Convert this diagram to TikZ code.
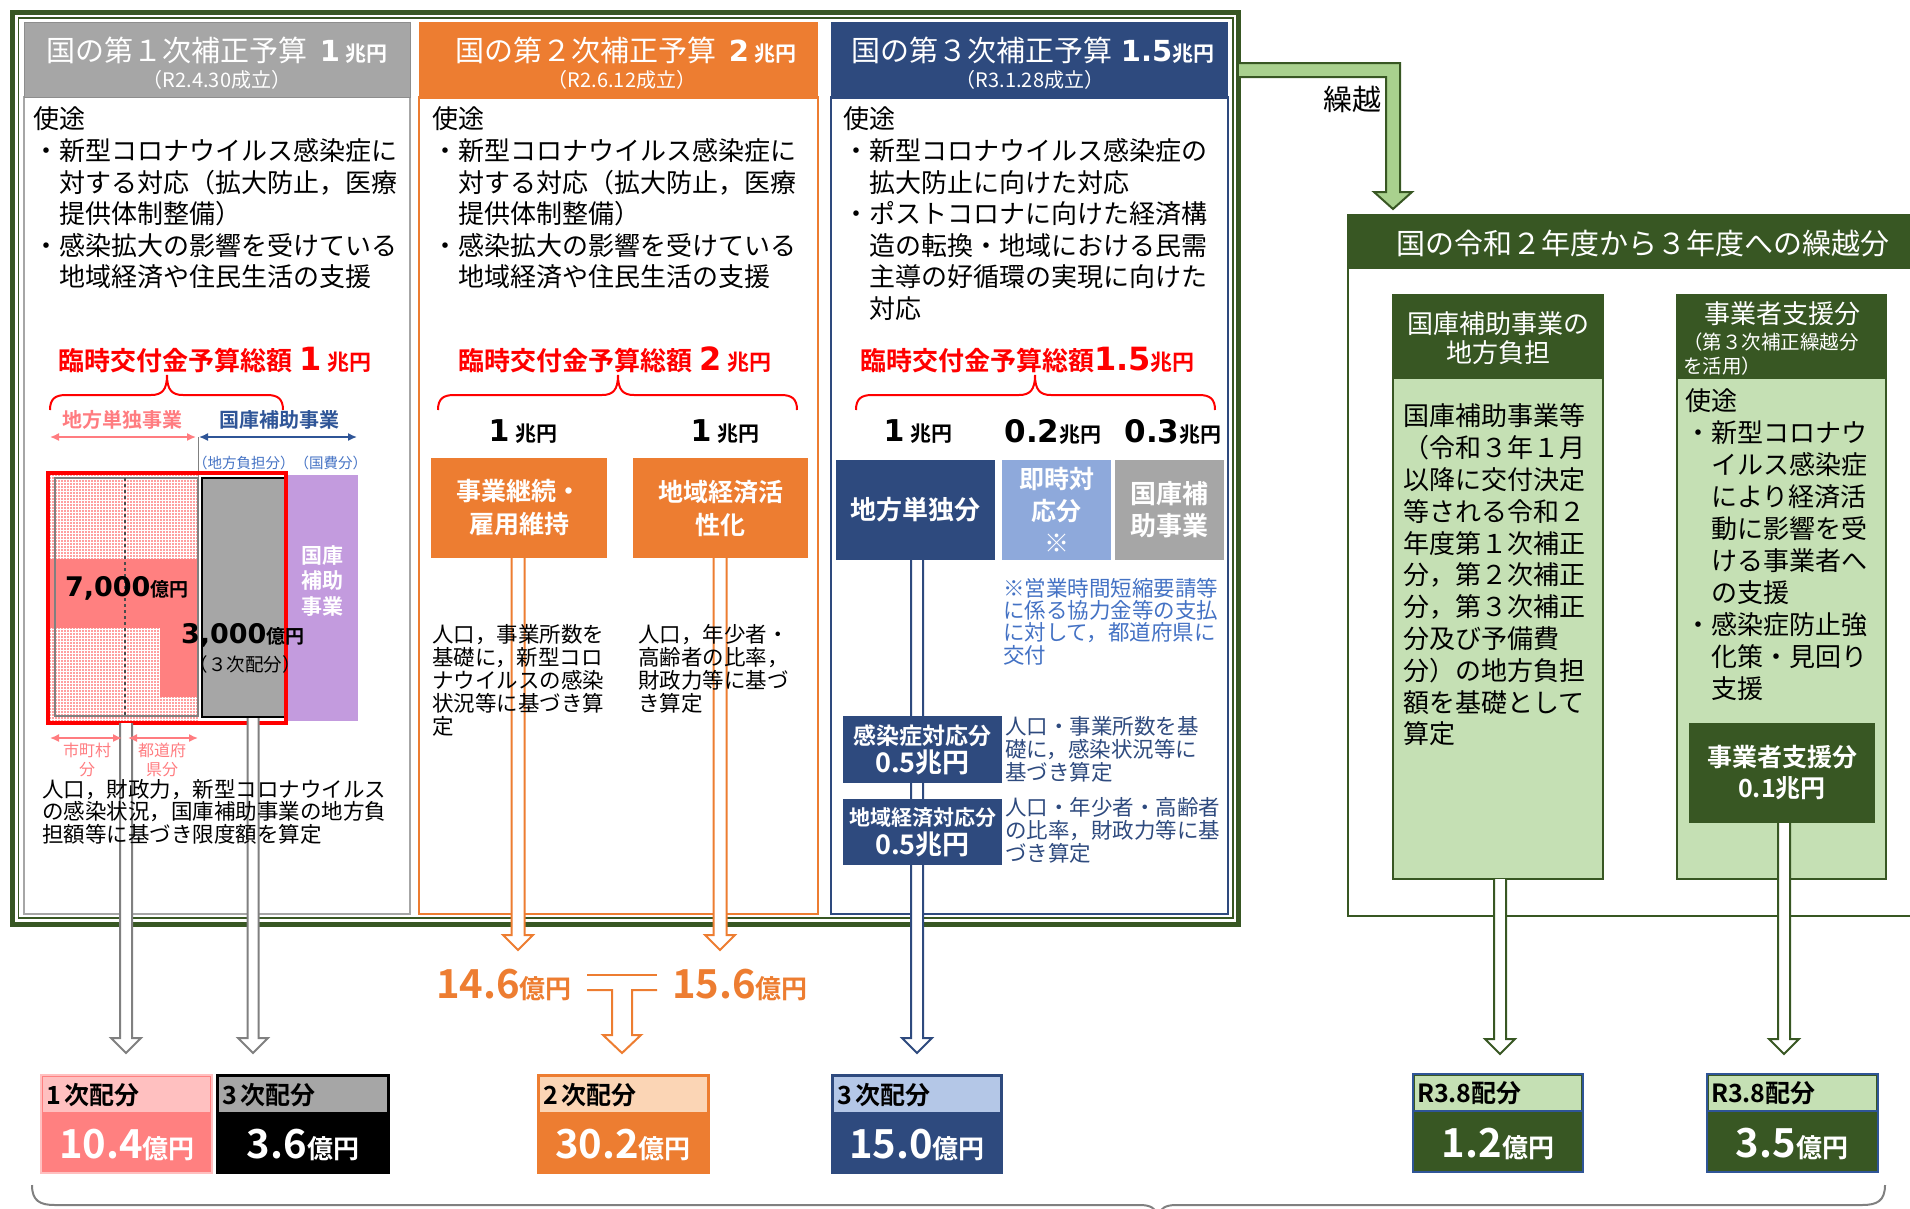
\documentclass[tikz,border=0pt]{standalone}
\usepackage{fontspec}
\setmainfont{Noto Sans CJK JP}[BoldFont={* Bold}]
\newfontfamily\vfont{DejaVu Sans}
\usetikzlibrary{calc,patterns,arrows.meta}
\newcommand\fs[2]{\fontsize{#1}{#2}\selectfont}
\newcommand\hollowdown[4]{\draw[#1, line width=2pt, fill=white, line join=miter] let \p1=#3, \p2=#4 in (\x1-#2,\y1) -- (\x1-#2,\y2+15pt) -- (\x1-15pt,\y2+15pt) -- (\x1,\y2) -- (\x1+15pt,\y2+15pt) -- (\x1+#2,\y2+15pt) -- (\x1+#2,\y1);}
\newcommand\redbrace[3]{\draw[red, line width=2pt] (#1,410) .. controls (#1,399) and (#1+5,395) .. (#1+16,395) -- (#2-16,395) .. controls (#2-5,395) and (#2,390) .. (#2,375) .. controls (#2,390) and (#2+5,395) .. (#2+16,395) -- (#3-16,395) .. controls (#3-5,395) and (#3,399) .. (#3,410);}
\definecolor{dgreen}{HTML}{385723}
\definecolor{lgreen}{HTML}{C5E0B4}
\definecolor{mgreen}{HTML}{A9D18E}
\definecolor{orng}{HTML}{ED7D31}
\definecolor{navy}{HTML}{2E4A7E}
\definecolor{hgray}{HTML}{A6A6A6}
\definecolor{lblue}{HTML}{8EA9DB}
\definecolor{tblue}{HTML}{4472C4}
\definecolor{kblue}{HTML}{2F5597}
\definecolor{pinkt}{HTML}{FF7C80}
\definecolor{pinkb}{HTML}{FF8080}
\definecolor{pinkl}{HTML}{FFC0C0}
\definecolor{purp}{HTML}{C39BDE}
\definecolor{peach}{HTML}{FBD5B5}
\definecolor{lnavy}{HTML}{B4C7E7}
\begin{document}
\begin{tikzpicture}[x=1pt,y=-1pt, every node/.style={inner sep=0pt,outer sep=0pt},
  bx/.style={rectangle, anchor=north west},
  tl/.style={anchor=north west, align=left},
  dim/.style={line width=1.5pt, {Latex[length=9pt,width=8pt]}-{Latex[length=9pt,width=8pt]}}]
\useasboundingbox (0,0) rectangle (1910,1208);
% ---------- outer frame ----------
\node[bx, draw=dgreen, line width=5pt, minimum width=1226, minimum height=912] (frame) at (12.5,12.5) {};
\draw[dgreen, line width=1.2pt] (18.5,18) rectangle (1233,918);
% ---------- columns ----------
\node[bx, draw=hgray, line width=2pt, minimum width=386, minimum height=817] (c1) at (24,97) {};
\node[bx, fill=hgray, draw=hgray!85!black, line width=1pt, minimum width=386, minimum height=75] (h1) at (24,22) {};
\node[bx, draw=orng, line width=2pt, minimum width=399, minimum height=817] (c2) at (419,97) {};
\node[bx, fill=orng, minimum width=399, minimum height=77] (h2) at (419,22) {};
\node[bx, draw=navy, line width=2pt, minimum width=397, minimum height=817] (c3) at (831,97) {};
\node[bx, fill=navy, minimum width=397, minimum height=77] (h3) at (831,22) {};
\node[text=white] (h1t) at (217,50) {\fs{29}{34}国の第１次補正予算\hspace{12pt}{\vfont\bfseries 1}\hspace{5pt}{\bfseries\fs{21}{25}兆円}};
\node[text=white] (h1s) at (217,80) {\fs{20}{24}（R2.4.30成立）};
\node[text=white] (h2t) at (626,50) {\fs{29}{34}国の第２次補正予算\hspace{12pt}{\vfont\bfseries 2}\hspace{5pt}{\bfseries\fs{21}{25}兆円}};
\node[text=white] (h2s) at (622,80) {\fs{20}{24}（R2.6.12成立）};
\node[text=white] (h3t) at (1033,50) {\fs{29}{34}国の第３次補正予算\hspace{8pt}{\vfont\bfseries 1.5}{\bfseries\fs{21}{25}兆円}};
\node[text=white] (h3s) at (1030,80) {\fs{20}{24}（R3.1.28成立）};
% ---------- usage texts ----------
\node[tl, font=\fs{26}{31.6}] (u1) at (33,107) {使途\\・新型コロナウイルス感染症に\\\hspace*{1em}対する対応（拡大防止，医療\\\hspace*{1em}提供体制整備）\\・感染拡大の影響を受けている\\\hspace*{1em}地域経済や住民生活の支援};
\node[tl, font=\fs{26}{31.6}] (u2) at (432,107) {使途\\・新型コロナウイルス感染症に\\\hspace*{1em}対する対応（拡大防止，医療\\\hspace*{1em}提供体制整備）\\・感染拡大の影響を受けている\\\hspace*{1em}地域経済や住民生活の支援};
\node[tl, font=\fs{26}{31.6}] (u3) at (843,107) {使途\\・新型コロナウイルス感染症の\\\hspace*{1em}拡大防止に向けた対応\\・ポストコロナに向けた経済構\\\hspace*{1em}造の転換・地域における民需\\\hspace*{1em}主導の好循環の実現に向けた\\\hspace*{1em}対応};
% ---------- totals ----------
\node[anchor=west, text=red] (r1) at (58,360) {\bfseries\fs{26}{30}臨時交付金予算総額\hspace{7pt}{\vfont\fs{32}{36}1}\hspace{6pt}\fs{22}{26}兆円};
\node[anchor=west, text=red] (r2) at (458,360) {\bfseries\fs{26}{30}臨時交付金予算総額\hspace{7pt}{\vfont\fs{32}{36}2}\hspace{6pt}\fs{22}{26}兆円};
\node[anchor=west, text=red] (r3) at (860,360) {\bfseries\fs{26}{30}臨時交付金予算総額{\vfont\fs{32}{36}1.5}\fs{22}{26}兆円};
\redbrace{50}{167}{283}
\redbrace{438}{618}{797}
\redbrace{856}{1035}{1215}
% ---------- column 1 diagram ----------
\node[text=pinkt] (l1) at (122,420) {\bfseries\fs{20}{24}地方単独事業};
\node[text=kblue] (l2) at (279,420) {\bfseries\fs{20}{24}国庫補助事業};
\draw[pinkt, dim] (50,437) -- (196,437);
\draw[kblue, dim] (199,437) -- (357,437);
\draw[gray, line width=1pt] (198,437) -- (198,478);
\node[anchor=west, text=tblue] (l3) at (193,463) {\fs{14.5}{17}（地方負担分）（国費分）};
\fill[pinkb!75] (50,475) rectangle (198,721);
\fill[pattern=grid, pattern color=white] (50,475) rectangle (198,721);
\fill[pinkb] (48,559) rectangle (197,628);
\fill[pinkb] (160,628) rectangle (197,697);
\draw[gray, line width=1.5pt] (55,478) rectangle (198,716);
\draw[black!70, dashed, line width=1.2pt] (125,478) -- (125,718);
\node[bx, fill=hgray, draw=black, line width=2.5pt, minimum width=85, minimum height=239] (gb) at (202,478) {};
\node[bx, fill=purp, minimum width=70, minimum height=246] (pb) at (288,475) {};
\node[text=white, align=center, font=\bfseries\fs{21}{25.5}] (pbt) at (322,581) {国庫\\補助\\事業};
\node[bx, draw=red, line width=3.5pt, minimum width=238, minimum height=250] (rb) at (48,473) {};
\node[anchor=west] (v7) at (65,588) {\bfseries{\vfont\fs{27}{30}7,000}\fs{19}{22}億円};
\node[anchor=west] (v3) at (181,635) {\bfseries{\vfont\fs{27}{30}3,000}\fs{19}{22}億円};
\node (v3s) at (245,664) {\fs{18.5}{21}（３次配分）};
% ---------- column 2 ----------
\node (o1v) at (523,432) {{\vfont\bfseries\fs{30}{34}1}\hspace{6pt}{\bfseries\fs{21}{25}兆円}};
\node (o2v) at (725,432) {{\vfont\bfseries\fs{30}{34}1}\hspace{6pt}{\bfseries\fs{21}{25}兆円}};
\node[bx, fill=orng, text=white, align=center, minimum width=176, minimum height=100, font=\bfseries\fs{25}{33}] (o1) at (431,458) {事業継続・\\雇用維持};
\node[bx, fill=orng, text=white, align=center, minimum width=175, minimum height=100, font=\bfseries\fs{25}{33}] (o2) at (633,458) {地域経済活\\性化};
% ---------- column 3 ----------
\node (n1v) at (918,432) {{\vfont\bfseries\fs{30}{34}1}\hspace{6pt}{\bfseries\fs{21}{25}兆円}};
\node (n2v) at (1053,432) {{\vfont\bfseries\fs{31}{34}0.2}{\bfseries\fs{21}{25}兆円}};
\node (n3v) at (1173,432) {{\vfont\bfseries\fs{31}{34}0.3}{\bfseries\fs{21}{25}兆円}};
\node[bx, fill=navy, text=white, minimum width=159, minimum height=100, font=\bfseries\fs{26}{30}] (n1) at (836,460) {地方単独分};
\node[bx, fill=lblue, text=white, align=center, minimum width=109, minimum height=100, font=\bfseries\fs{25}{32}] (n2) at (1002,460) {即時対\\応分\\※};
\node[bx, fill=hgray, text=white, align=center, minimum width=109, minimum height=100, font=\bfseries\fs{26}{32}] (n3) at (1115,460) {国庫補\\助事業};
\node[tl, text=tblue, font=\fs{21.5}{22.4}] (nnote) at (1003,578) {※営業時間短縮要請等\\に係る協力金等の支払\\に対して，都道府県に\\交付};
% ---------- right section ----------
\node[bx, draw=dgreen, line width=2pt, minimum width=600, minimum height=701] (cf) at (1348,215) {};
\node[bx, fill=dgreen, minimum width=600, minimum height=54] (ch) at (1348,215) {};
\node[text=white] (cht) at (1643,243) {\fs{29}{33}国の令和２年度から３年度への繰越分};
\node[bx, fill=lgreen, draw=dgreen, line width=2pt, minimum width=210, minimum height=584] (ga) at (1393,295) {};
\node[bx, fill=dgreen, minimum width=210, minimum height=84] (gah) at (1393,295) {};
\node[text=white, align=center, font=\fs{26}{29}] (gaht) at (1498,338) {国庫補助事業の\\地方負担};
\node[tl, font=\fs{26}{31.8}] (gat) at (1403,404) {国庫補助事業等\\（令和３年１月\\以降に交付決定\\等される令和２\\年度第１次補正\\分，第２次補正\\分，第３次補正\\分及び予備費\\分）の地方負担\\額を基礎として\\算定};
\node[bx, fill=lgreen, draw=dgreen, line width=2pt, minimum width=209, minimum height=584] (gbx) at (1677,295) {};
\node[bx, fill=dgreen, minimum width=209, minimum height=84] (gbh) at (1677,295) {};
\node[text=white] (gbht) at (1782,314) {\fs{26}{30}事業者支援分};
\node[tl, text=white, font=\fs{19.5}{24}] (gbhs) at (1683,333) {（第３次補正繰越分\\を活用）};
\node[tl, font=\fs{26}{32}] (gbt) at (1685,389) {使途\\・新型コロナウ\\\hspace*{1em}イルス感染症\\\hspace*{1em}により経済活\\\hspace*{1em}動に影響を受\\\hspace*{1em}ける事業者へ\\\hspace*{1em}の支援\\・感染症防止強\\\hspace*{1em}化策・見回り\\\hspace*{1em}支援};
\node[bx, fill=dgreen, text=white, align=center, minimum width=186, minimum height=100, font=\bfseries\fs{25}{31}] (gbi) at (1689,723) {事業者支援分\\0.1兆円};
\coordinate (kS) at (1239,70);
\coordinate (kE) at (1393,209);
\draw[dgreen, line width=2pt, fill=mgreen, line join=miter] let \p1=(kS), \p2=(kE) in (\x1,\y1+7pt) -- (\x2+7pt,\y1+7pt) -- (\x2+7pt,\y2+17pt) -- (\x2+19pt,\y2+17pt) -- (\x2,\y2) -- (\x2-19pt,\y2+17pt) -- (\x2-7pt,\y2+17pt) -- (\x2-7pt,\y1-7pt) -- (\x1,\y1-7pt);
\node (kl) at (1352,99) {\fs{29}{33}繰越};
% ---------- bottom boxes ----------
\node[bx, fill=pinkb, draw=pinkl, line width=1.5pt, minimum width=171, minimum height=98] (b1) at (41,1075) {};
\fill[pinkl] (43,1077) rectangle (210,1112);
\node[anchor=west] (b1l) at (46,1095) {\bfseries\fs{25}{30}1\,次配分};
\node[text=white] (b1v) at (127,1145) {\bfseries\fs{40}{44}10.4\fs{26}{30}億円};
\node[bx, fill=black, draw=black, line width=1.5pt, minimum width=172, minimum height=98] (b2) at (217,1075) {};
\fill[hgray] (219,1077) rectangle (387,1112);
\node[anchor=west] (b2l) at (222,1095) {\bfseries\fs{25}{30}3\,次配分};
\node[text=white] (b2v) at (303,1145) {\bfseries\fs{40}{44}3.6\fs{26}{30}億円};
\node[bx, fill=orng, draw=orng, line width=1.5pt, minimum width=171, minimum height=98] (b3) at (538,1075) {};
\fill[peach] (540,1077) rectangle (707,1112);
\node[anchor=west] (b3l) at (543,1095) {\bfseries\fs{25}{30}2\,次配分};
\node[text=white] (b3v) at (623,1145) {\bfseries\fs{40}{44}30.2\fs{26}{30}億円};
\node[bx, fill=navy, draw=navy, line width=1.5pt, minimum width=170, minimum height=98] (b4) at (832,1075) {};
\fill[lnavy] (834,1077) rectangle (1000,1112);
\node[anchor=west] (b4l) at (837,1095) {\bfseries\fs{25}{30}3\,次配分};
\node[text=white] (b4v) at (917,1145) {\bfseries\fs{40}{44}15.0\fs{26}{30}億円};
\node[bx, fill=dgreen, draw=kblue, line width=2pt, minimum width=170, minimum height=98] (b5) at (1413,1074) {};
\fill[lgreen] (1415,1076) rectangle (1581,1110);
\draw[kblue, line width=1.5pt] (1413,1111) -- (1583,1111);
\node[anchor=west] (b5l) at (1417,1093) {\bfseries\fs{25}{30}R3.8配分};
\node[text=white] (b5v) at (1498,1144) {\bfseries\fs{40}{44}1.2\fs{26}{30}億円};
\node[bx, fill=dgreen, draw=kblue, line width=2pt, minimum width=171, minimum height=98] (b6) at (1707,1074) {};
\fill[lgreen] (1709,1076) rectangle (1876,1110);
\draw[kblue, line width=1.5pt] (1707,1111) -- (1878,1111);
\node[anchor=west] (b6l) at (1711,1093) {\bfseries\fs{25}{30}R3.8配分};
\node[text=white] (b6v) at (1792,1144) {\bfseries\fs{40}{44}3.5\fs{26}{30}億円};
% ---------- hollow arrows ----------
\coordinate (a1s) at (126,723);
\coordinate (a2s) at (253,718);
\coordinate (o1s) at (518,558);
\coordinate (o2s) at (720,558);
\coordinate (nas) at (917,560);
\coordinate (gas) at (1500,879);
\coordinate (gbs) at (1784,823);
\hollowdown{gray}{6pt}{(a1s)}{($(b1.north)+(0,-22)$)}
\hollowdown{gray}{5.5pt}{(a2s)}{($(b1.north)+(0,-22)$)}
\hollowdown{orng}{6.5pt}{(o1s)}{($(b3.north)+(0,-125)$)}
\hollowdown{orng}{6.5pt}{(o2s)}{($(b3.north)+(0,-125)$)}
\hollowdown{navy}{6pt}{(nas)}{($(b4.north)+(0,-22)$)}
\hollowdown{dgreen}{6pt}{(gas)}{($(b5.north)+(0,-20)$)}
\hollowdown{dgreen}{6pt}{(gbs)}{($(b6.north)+(0,-20)$)}
% ---------- boxes over navy arrow ----------
\node[bx, fill=navy, text=white, align=center, minimum width=159, minimum height=67, font=\bfseries\fs{23}{28}] (n4) at (843,716) {感染症対応分\\\fs{27}{28}0.5兆円};
\node[bx, fill=navy, text=white, align=center, minimum width=159, minimum height=66, font=\bfseries\fs{21}{29}] (n5) at (843,799) {地域経済対応分\\\fs{27}{29}0.5兆円};
\node[tl, text=navy, font=\fs{21.5}{23}] (n4t) at (1005,716) {人口・事業所数を基\\礎に，感染状況等に\\基づき算定};
\node[tl, text=navy, font=\fs{21.5}{23}] (n5t) at (1005,797) {人口・年少者・高齢者\\の比率，財政力等に基\\づき算定};
% ---------- texts over arrows ----------
\draw[pinkt, dim] (50,738) -- (122,738);
\draw[pinkt, dim] (128,738) -- (198,738);
\node[text=pinkt, align=center, font=\fs{16}{19}] (m1) at (87,760) {市町村\\分};
\node[text=pinkt, align=center, font=\fs{16}{19}] (m2) at (162,760) {都道府\\県分};
\node[tl, font=\fs{21.5}{22.6}] (c1t) at (42,779) {人口，財政力，新型コロナウイルス\\の感染状況，国庫補助事業の地方負\\担額等に基づき限度額を算定};
\node[tl, font=\fs{21.5}{23.2}] (c2t1) at (432,624) {人口，事業所数を\\基礎に，新型コロ\\ナウイルスの感染\\状況等に基づき算\\定};
\node[tl, font=\fs{21.5}{23.2}] (c2t2) at (638,624) {人口，年少者・\\高齢者の比率，\\財政力等に基づ\\き算定};
% ---------- 2nd distribution T ----------
\node[text=orng] (n146) at (504,985) {\bfseries\fs{40}{44}14.6\fs{26}{30}億円};
\node[text=orng] (n156) at (740,985) {\bfseries\fs{40}{44}15.6\fs{26}{30}億円};
\draw[orng, line width=2pt] (587,975) -- (657,975);
\draw[orng, line width=2pt, line join=miter] (587,990) -- (612,990) -- (612,1035) -- (603,1035) -- (622,1053) -- (641,1035) -- (632,1035) -- (632,990) -- (657,990);
% ---------- bottom brace ----------
\draw[gray, line width=2pt] (32,1185) .. controls (32,1201) and (40,1205) .. (55,1205) -- (1140,1205) .. controls (1150,1205) and (1156,1208) .. (1158,1216);
\draw[gray, line width=2pt] (1885,1185) .. controls (1885,1201) and (1877,1205) .. (1862,1205) -- (1176,1205) .. controls (1166,1205) and (1160,1208) .. (1158,1216);
\end{tikzpicture}
\end{document}
